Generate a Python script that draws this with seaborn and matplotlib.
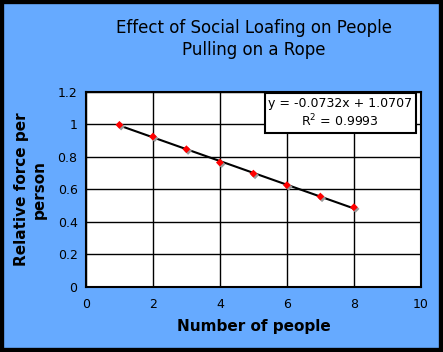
import numpy as np
import pandas as pd
import matplotlib
matplotlib.use("Agg")
import matplotlib.pyplot as plt
import matplotlib.transforms as mtransforms
import seaborn as sns

people = [1, 2, 3, 4, 5, 6, 7, 8]
force = [0.997, 0.925, 0.847, 0.765, 0.697, 0.626, 0.556, 0.490]
x_ticks = [0, 2, 4, 6, 8, 10]
y_ticks = [0, 0.2, 0.4, 0.6, 0.8, 1, 1.2]
y_ticklabels = ["0", "0.2", "0.4", "0.6", "0.8", "1", "1.2"]

sns.set_style("white")
plt.rcParams['font.family'] = ['DejaVu Sans']
plt.rcParams['text.color'] = 'black'
plt.rcParams['axes.labelcolor'] = 'black'
plt.rcParams['xtick.color'] = 'black'
plt.rcParams['ytick.color'] = 'black'

df = pd.DataFrame({"people": people, "force": force})
slope, intercept = np.polyfit(df.people, df.force, 1)
df["fit"] = slope * df.people + intercept

bg = "#66aaff"
fig = plt.figure(figsize=(4.43, 3.52), dpi=100, facecolor=bg)
ax = fig.add_axes([0.194, 0.185, 0.756, 0.554])
ax.set_facecolor("white")

# trend line
sns.lineplot(data=df, x="people", y="fit", color="black", linewidth=1.5, ax=ax, zorder=3)

# marker shadow then markers
shadow = mtransforms.offset_copy(ax.transData, fig=fig, x=1.2, y=-1.2, units="points")
ax.scatter(df.people, df.force, marker="D", s=16, color="#999999", edgecolor="none",
           transform=shadow, zorder=4)
sns.scatterplot(data=df, x="people", y="force", marker="D", s=16, color="red",
                edgecolor="none", ax=ax, zorder=5)

ax.set_xlim(0, 10)
ax.set_ylim(0, 1.2)
ax.set_xticks(x_ticks)
ax.set_yticks(y_ticks)
ax.set_yticklabels(y_ticklabels)
ax.grid(True, color="black", linewidth=1)
ax.set_axisbelow(True)
for s in ax.spines.values():
    s.set_color("black")
    s.set_linewidth(1.5)
ax.tick_params(axis="both", direction="inout", length=6, width=1.5, color="black",
               labelsize=9, pad=3)
ax.tick_params(axis="x", pad=5)

ax.set_xlabel("Number of people", fontsize=11, fontweight="bold", labelpad=6)
ax.set_ylabel("Relative force per\nperson", fontsize=11, fontweight="bold", labelpad=8)

fig.text(0.573, 0.89, "Effect of Social Loafing on People\nPulling on a Rope",
         ha="center", va="center", fontsize=12, linespacing=1.3)

# equation box, sitting just under the top spine
ax.text(0.975, 0.975, "y = -0.0732x + 1.0707\nR$^2$ = 0.9993", transform=ax.transAxes,
        ha="right", va="top", fontsize=9, multialignment="center", zorder=6,
        bbox=dict(boxstyle="square,pad=0.3", facecolor="white", edgecolor="black", linewidth=1.5))

fig.patches.append(plt.Rectangle((0, 0), 1, 1, transform=fig.transFigure, fill=False,
                                 edgecolor="black", linewidth=6, figure=fig))

fig.savefig("out.png", dpi=100, facecolor=bg)
